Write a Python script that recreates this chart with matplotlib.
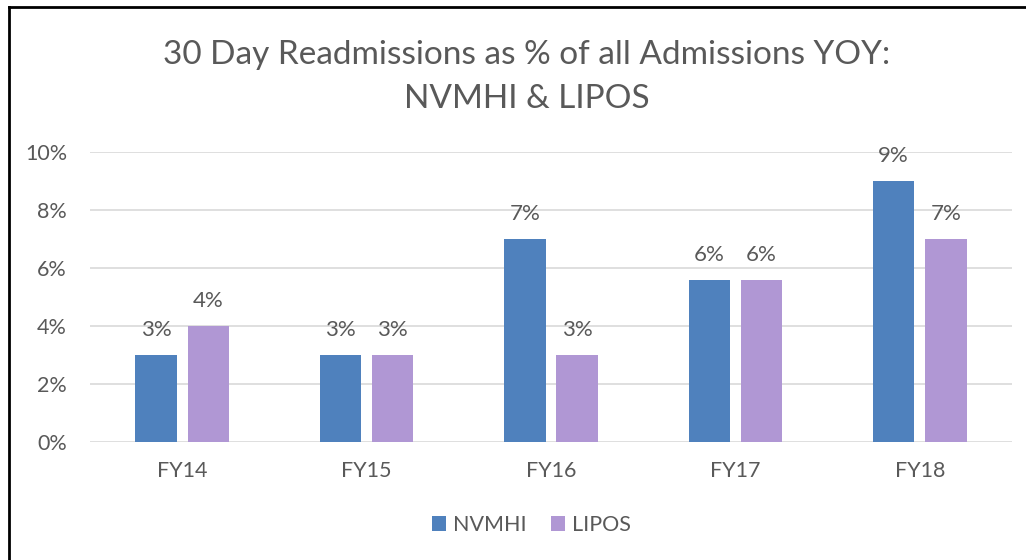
import numpy as np
import matplotlib.pyplot as plt
from matplotlib.lines import Line2D
from matplotlib.ticker import FuncFormatter

plt.rcParams['font.family'] = ['Lato', 'DejaVu Sans']

categories = ['FY14', 'FY15', 'FY16', 'FY17', 'FY18']
nvmhi = [3.0, 3.0, 7.0, 5.6, 9.0]
lipos = [4.0, 3.0, 3.0, 5.6, 7.0]
title = '30 Day Readmissions as % of all Admissions YOY:\nNVMHI & LIPOS'

text_color = '#595959'
fig = plt.figure(figsize=(10.26, 5.6), dpi=100)
ax = fig.add_axes([90/1026, 0.2107, 922/1026, 0.7286 - 0.2107])

x = np.arange(len(categories))
width = 0.225
off = 0.1415
b1 = ax.bar(x - off, nvmhi, width, color='#4F81BD', label='NVMHI', zorder=3)
b2 = ax.bar(x + off, lipos, width, color='#B097D4', label='LIPOS', zorder=3)

for bars, vals in ((b1, nvmhi), (b2, lipos)):
    for bar, v in zip(bars, vals):
        ax.text(bar.get_x() + bar.get_width()/2, v + 0.5, f'{v:.0f}%',
                ha='center', va='bottom', fontsize=16, color=text_color)

ax.set_xlim(-0.5, len(categories) - 0.5)
ax.set_ylim(0, 10)
ax.set_yticks(np.arange(0, 11, 2))
ax.yaxis.set_major_formatter(FuncFormatter(lambda v, p: f'{v:.0f}%'))
ax.set_xticks(x)
ax.set_xticklabels(categories)
ax.tick_params(axis='both', length=0, labelsize=15.5, colors=text_color)
ax.tick_params(axis='x', pad=14)
ax.tick_params(axis='y', pad=16.5)
ax.grid(axis='y', color='#D9D9D9', linewidth=1.2, zorder=0)
for s in ax.spines.values():
    s.set_visible(False)

fig.text(0.513, 0.862, title, ha='center', va='center', fontsize=24,
         color=text_color, linespacing=1.6)

fig.legend(loc='center', bbox_to_anchor=(0.518, 0.0625), ncol=2, frameon=False,
           fontsize=15.5, labelcolor=text_color, handlelength=0.65, handleheight=0.65,
           handletextpad=0.35, columnspacing=1.1)

# chart border (only left and top visible in the crop)
fig.add_artist(Line2D([9/1026, 9/1026], [0, 1 - 7/560], transform=fig.transFigure,
                      color='black', linewidth=2))
fig.add_artist(Line2D([9/1026, 1], [1 - 7/560, 1 - 7/560], transform=fig.transFigure,
                      color='black', linewidth=2))

fig.savefig('out.png', dpi=100)
